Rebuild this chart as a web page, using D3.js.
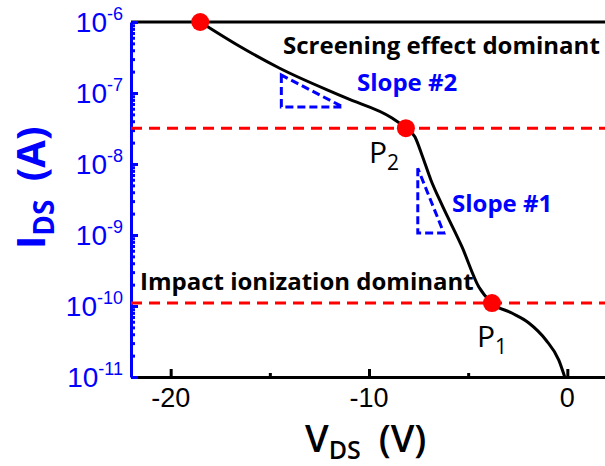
<!DOCTYPE html>
<html>
<head>
<meta charset="utf-8">
<script src="https://cdn.jsdelivr.net/npm/d3@7"></script>
<style>
  body { margin: 0; background: #fff; }
  svg { display: block; }
</style>
</head>
<body>
<svg id="chart" width="605" height="466"></svg>
<script>
// I-V curve
const vds = [-18.51, -16.55, -14.53, -11.16, -8.84, -8.14, -7.68, -7.33, -6.88, -6.32,
  -5.31, -4.46, -3.8, -2.8, -1.94, -1.08, -0.43, -0.13];
const ids = [1.0e-6, 4.59e-7, 2.25e-7, 8.51e-8, 4.45e-8, 3.21e-8, 2.4e-8, 1.34e-8, 5.96e-9, 2.65e-9,
  6.78e-10, 1.85e-10, 1.1e-10, 7.96e-11, 5.77e-11, 3.32e-11, 1.73e-11, 1.0e-11];

// red markers (start, P2, P1)
const markerV = [-18.51, -8.14, -3.8];
const markerI = [1.0e-6, 3.2e-8, 1.1e-10];

// horizontal thresholds
const thresholds = [3.2e-8, 1.1e-10];

// slope triangles: [vLeft, vRight, iTop, iBottom]
const slope2 = [-14.42, -11.31, 1.79e-7, 6.35e-8];
const slope1 = [-7.54, -6.23, 8.71e-9, 1.07e-9];

const xTicks = [-20, -10, 0];
const xMinor = [-15, -5];
const yTicks = [1e-6, 1e-7, 1e-8, 1e-9, 1e-10, 1e-11];
const yExp = ["-6", "-7", "-8", "-9", "-10", "-11"];

const svg = d3.select("#chart");
const mLeft = 131, mRight = 607, mTop = 22, mBottom = 377;
const blue = "#0000ff", red = "#ff0000";

const x = d3.scaleLinear().domain([-22, 2]).range([mLeft, mRight]);
const y = d3.scaleLog().domain([1e-11, 1e-6]).range([mBottom, mTop]);

// minor ticks on log axis
const yMinor = [];
for (let e = -11; e < -6; e++) {
  for (let m = 2; m <= 9; m++) yMinor.push(m * Math.pow(10, e));
}

// top frame line
svg.append("line")
  .attr("x1", mLeft).attr("x2", mRight)
  .attr("y1", mTop).attr("y2", mTop)
  .attr("stroke", "#000").attr("stroke-width", 3);

// x axis (ticks inward)
svg.append("g").attr("class", "xaxis").attr("transform", `translate(0,${mBottom})`)
  .call(d3.axisTop(x).tickValues(xTicks).tickSize(8).tickSizeOuter(0).tickFormat(""));
svg.append("g").attr("class", "xaxis").attr("transform", `translate(0,${mBottom})`)
  .call(d3.axisTop(x).tickValues(xMinor).tickSize(4).tickSizeOuter(0).tickFormat(""))
  .select(".domain").remove();
svg.selectAll(".xaxis path, .xaxis line").attr("stroke", "#000").attr("stroke-width", 3);

svg.selectAll(".xlab")
  .data(xTicks)
  .enter()
  .append("text")
  .attr("x", (d) => x(d))
  .attr("y", 407)
  .attr("text-anchor", "middle")
  .attr("font-family", "Liberation Sans, Arial, sans-serif")
  .attr("font-size", 27)
  .attr("fill", "#000")
  .text((d) => d);

// y axis (blue, ticks inward)
svg.append("g").attr("class", "yaxis").attr("transform", `translate(${mLeft},0)`)
  .call(d3.axisRight(y).tickValues(yTicks).tickSize(7).tickSizeOuter(0).tickFormat(""));
svg.append("g").attr("class", "yaxis").attr("transform", `translate(${mLeft},0)`)
  .call(d3.axisRight(y).tickValues(yMinor).tickSize(4).tickSizeOuter(0).tickFormat(""))
  .select(".domain").remove();
svg.selectAll(".yaxis path, .yaxis line").attr("stroke", blue).attr("stroke-width", 3);

const ylab = svg.selectAll(".ylab")
  .data(yTicks)
  .enter()
  .append("text")
  .attr("x", 123)
  .attr("y", (d) => y(d) + 10)
  .attr("text-anchor", "end")
  .attr("font-family", "Liberation Sans, Arial, sans-serif")
  .attr("fill", blue);
ylab.append("tspan").attr("font-size", 28).text("10");
ylab.append("tspan").attr("font-size", 18).attr("dy", -12).text((d, i) => yExp[i]);

// threshold lines
svg.selectAll(".thr")
  .data(thresholds)
  .enter()
  .append("line")
  .attr("x1", mLeft).attr("x2", mRight)
  .attr("y1", (d) => y(d)).attr("y2", (d) => y(d))
  .attr("stroke", red)
  .attr("stroke-width", 3)
  .attr("stroke-dasharray", "11,7");

// slope triangles
[slope2, slope1].forEach((s) => {
  const pts = [[x(s[0]), y(s[2])], [x(s[0]), y(s[3])], [x(s[1]), y(s[3])]];
  svg.append("path")
    .attr("d", "M" + pts.join("L") + "Z")
    .attr("fill", "none")
    .attr("stroke", blue)
    .attr("stroke-width", 3)
    .attr("stroke-dasharray", "8,4");
});

// curve
const line = d3.line()
  .x((d, i) => x(vds[i]))
  .y((d, i) => y(ids[i]))
  .curve(d3.curveMonotoneX);
svg.append("path")
  .attr("d", line(vds))
  .attr("fill", "none")
  .attr("stroke", "#000")
  .attr("stroke-width", 3);

// markers
svg.selectAll(".mark")
  .data(markerV)
  .enter()
  .append("circle")
  .attr("cx", (d) => x(d))
  .attr("cy", (d, i) => y(markerI[i]))
  .attr("r", 9)
  .attr("fill", red);

// annotations
const font = "'Open Sans', 'Noto Sans', sans-serif";
function label(txt, px, py, size, color, weight) {
  return svg.append("text")
    .attr("x", px).attr("y", py)
    .attr("font-family", font)
    .attr("font-size", size)
    .attr("font-weight", weight)
    .attr("fill", color)
    .text(txt);
}
label("Screening effect dominant", 283, 54, 24, "#000", "bold");
label("Impact ionization dominant", 140, 290, 24, "#000", "bold");
label("Slope #2", 357, 91, 24, blue, "bold");
label("Slope #1", 452, 212, 24, blue, "bold");

function pLabel(sub, px, py) {
  const t = svg.append("text").attr("x", px).attr("y", py)
    .attr("font-family", font).attr("fill", "#000");
  t.append("tspan").attr("font-size", 30).text("P");
  t.append("tspan").attr("font-size", 21).attr("dy", 7).text(sub);
}
pLabel("2", 369, 163);
pLabel("1", 477, 347);

// axis titles
const xt = svg.append("text").attr("x", 305).attr("y", 452)
  .attr("font-family", font).attr("font-weight", 600).attr("fill", "#000");
xt.append("tspan").attr("font-size", 38).text("V");
xt.append("tspan").attr("font-size", 25).attr("dy", 7).text("DS");
xt.append("tspan").attr("font-size", 38).attr("dy", -7).attr("dx", 8).text(" (V)");

const yt = svg.append("text").attr("transform", "translate(45,249) rotate(-90)")
  .attr("font-family", font).attr("font-weight", "bold").attr("fill", blue);
yt.append("tspan").attr("font-size", 40).text("I");
yt.append("tspan").attr("font-size", 28).attr("dy", 9).text("DS");
yt.append("tspan").attr("font-size", 40).attr("dy", -9).attr("dx", 8).text(" (A)");
</script>
</body>
</html>
